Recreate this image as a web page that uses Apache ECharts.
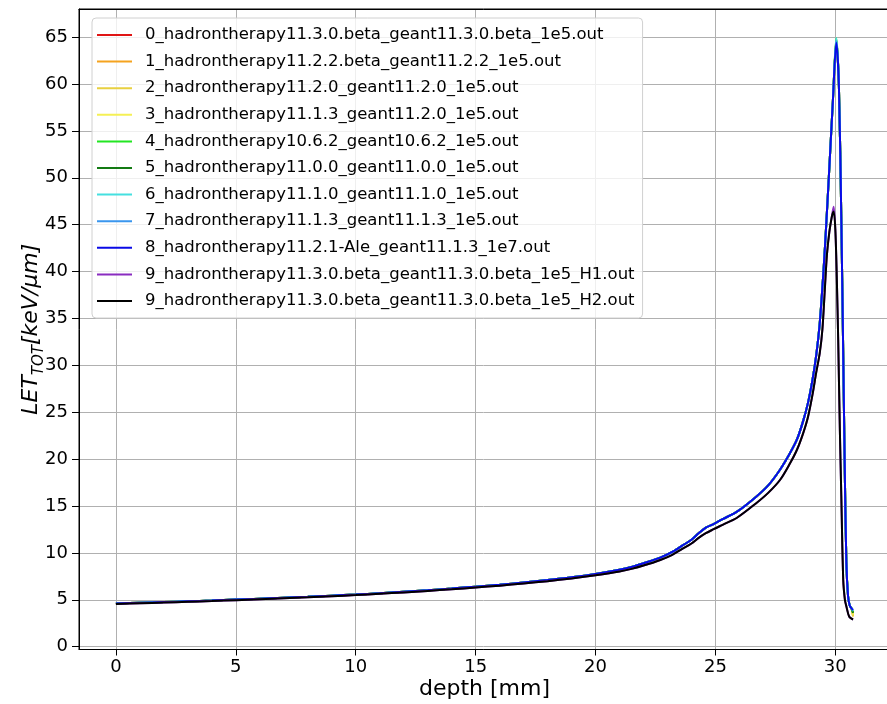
<!DOCTYPE html>
<html>
<head>
<meta charset="utf-8">
<script src="https://cdn.jsdelivr.net/npm/echarts@6/dist/echarts.min.js"></script>
<style>
  html, body { margin: 0; padding: 0; background: #fff; }
  #chart { width: 887px; height: 704px; }
</style>
</head>
<body>
<div id="chart"></div>
<script>
// depth grid [mm] and LET values
var depthMain = [0, 1, 2, 3, 4, 5, 6, 7, 8, 9, 10, 11, 12, 13, 14, 15, 16, 17, 18, 19, 20, 21, 21.5, 22, 22.7, 23.2, 23.6, 24.0, 24.3, 24.6, 24.9, 25.3, 25.9, 26.7, 27.2, 27.7, 28.1, 28.4, 28.65, 28.86, 29.05, 29.2, 29.35, 29.51, 29.62, 29.73, 29.9, 30.04, 30.15, 30.25, 30.32, 30.39, 30.46, 30.53, 30.6, 30.67, 30.74];
var letMain = [4.6, 4.68, 4.76, 4.84, 4.92, 5.02, 5.12, 5.22, 5.32, 5.44, 5.56, 5.7, 5.86, 6.02, 6.2, 6.4, 6.6, 6.84, 7.1, 7.4, 7.76, 8.2, 8.5, 8.9, 9.5, 10.1, 10.75, 11.4, 12.1, 12.7, 13.05, 13.6, 14.4, 16.0, 17.2, 18.9, 20.6, 22.1, 24.0, 26.0, 28.5, 31.0, 34.5, 40.2, 45.0, 50.1, 58.3, 64.4, 59.7, 45.5, 33.0, 19.6, 9.0, 5.4, 4.4, 4.1, 3.9];
var depthH = [0, 1, 2, 3, 4, 5, 6, 7, 8, 9, 10, 11, 12, 13, 14, 15, 16, 17, 18, 19, 20, 21, 21.5, 22, 22.7, 23.2, 23.6, 24.0, 24.3, 24.6, 24.9, 25.3, 25.9, 26.7, 27.2, 27.7, 28.1, 28.4, 28.65, 28.86, 29.05, 29.2, 29.35, 29.46, 29.56, 29.65, 29.75, 29.85, 29.93, 30.0, 30.06, 30.12, 30.19, 30.25, 30.33, 30.4, 30.46, 30.58, 30.74];
var letH = [4.55, 4.63, 4.71, 4.79, 4.87, 4.96, 5.06, 5.16, 5.26, 5.38, 5.5, 5.64, 5.79, 5.95, 6.12, 6.31, 6.51, 6.74, 6.99, 7.28, 7.62, 8.02, 8.3, 8.65, 9.25, 9.8, 10.4, 11.0, 11.6, 12.1, 12.5, 13.0, 13.75, 15.3, 16.4, 17.8, 19.5, 21.0, 22.7, 24.5, 26.9, 29.2, 31.3, 33.8, 38.0, 41.8, 44.2, 45.8, 46.4, 44.5, 39.5, 32.7, 23.0, 16.0, 7.1, 5.0, 4.3, 3.2, 2.9];

var names = [
  "0_hadrontherapy11.3.0.beta_geant11.3.0.beta_1e5.out",
  "1_hadrontherapy11.2.2.beta_geant11.2.2_1e5.out",
  "2_hadrontherapy11.2.0_geant11.2.0_1e5.out",
  "3_hadrontherapy11.1.3_geant11.2.0_1e5.out",
  "4_hadrontherapy10.6.2_geant10.6.2_1e5.out",
  "5_hadrontherapy11.0.0_geant11.0.0_1e5.out",
  "6_hadrontherapy11.1.0_geant11.1.0_1e5.out",
  "7_hadrontherapy11.1.3_geant11.1.3_1e5.out",
  "8_hadrontherapy11.2.1-Ale_geant11.1.3_1e7.out",
  "9_hadrontherapy11.3.0.beta_geant11.3.0.beta_1e5_H1.out",
  "9_hadrontherapy11.3.0.beta_geant11.3.0.beta_1e5_H2.out"
];
var colors = ["#e01515", "#f5a31f", "#e8d040", "#f5f055", "#22e622", "#137a13", "#45e0e0", "#3a96ee", "#0a0ae6", "#8a2cc0", "#000000"];
// per-run peak height and end value
var peakVals = [64.6, 64.5, 64.7, 64.6, 64.9, 64.7, 64.9, 64.6, 64.4, 46.9, 46.4];
var endVals = [3.5, 3.3, 3.2, 3.4, 3.6, 3.6, 3.8, 4.0, 3.9, 2.9, 2.9];

var myChart = echarts.init(document.getElementById('chart'));

var series = [];
names.forEach(function (n, i) {
  var isH = i >= 9;
  var xs = isH ? depthH : depthMain;
  var ys = (isH ? letH : letMain).slice();
  var peakIdx = ys.indexOf(Math.max.apply(null, ys));
  ys[peakIdx] = peakVals[i];
  ys[ys.length - 1] = endVals[i];
  series.push({
    name: n,
    type: 'line',
    showSymbol: false,
    symbol: 'none',
    smooth: 0.3,
    lineStyle: { width: 2, color: colors[i] },
    itemStyle: { color: colors[i] },
    data: xs.map(function (x, k) { return [x, ys[k]]; })
  });
});

var option = {
  animation: false,
  grid: { left: 79, right: -3, top: 9, bottom: 54.5, outerBoundsMode: 'none', containLabel: false, show: true, borderColor: '#000', borderWidth: 1 },
  legend: {
    orient: 'vertical',
    left: 92,
    top: 18,
    icon: 'rect',
    itemWidth: 35,
    itemHeight: 2,
    itemGap: 8.6,
    padding: [8, 8, 8, 5],
    backgroundColor: 'rgba(255,255,255,0.8)',
    borderColor: '#d0d0d0',
    borderWidth: 1,
    borderRadius: 4,
    textStyle: { fontFamily: 'DejaVu Sans', fontSize: 16.5, color: '#000', lineHeight: 18, padding: [0, 0, 0, 8] },
    data: names
  },
  xAxis: [{
    type: 'value',
    min: -1.54,
    max: 32.28,
    splitNumber: 7,
    name: 'depth [mm]',
    nameLocation: 'middle',
    nameGap: 29,
    nameMoveOverlap: false,
    nameTextStyle: { fontFamily: 'DejaVu Sans', fontSize: 22, color: '#000', verticalAlign: 'top' },
    axisLine: { show: true, onZero: false, lineStyle: { color: '#000' } },
    axisTick: { show: true, length: 6, lineStyle: { color: '#000' } },
    axisLabel: { fontFamily: 'DejaVu Sans', fontSize: 18, color: '#000', margin: 9, showMinLabel: false, showMaxLabel: false },
    splitLine: { show: true, lineStyle: { color: '#b0b0b0', width: 1 } }
  }, {
    // top spine only
    type: 'value',
    position: 'top',
    min: -1.54,
    max: 32.28,
    axisLine: { show: true, onZero: false, lineStyle: { color: '#000' } },
    axisTick: { show: false },
    axisLabel: { show: false },
    splitLine: { show: false }
  }],
  yAxis: {
    type: 'value',
    min: -0.3,
    max: 68.0,
    splitNumber: 14,
    name: '{i|LET}{s|TOT}{i|[keV/μm]}',
    nameLocation: 'middle',
    nameGap: 37,
    nameMoveOverlap: false,
    nameRotate: 90,
    nameTextStyle: {
      color: '#000',
      rich: {
        i: { fontFamily: 'DejaVu Sans', fontStyle: 'italic', fontSize: 22, color: '#000', lineHeight: 26, verticalAlign: 'bottom' },
        s: { fontFamily: 'DejaVu Sans', fontStyle: 'italic', fontSize: 15, color: '#000', lineHeight: 26, verticalAlign: 'bottom', padding: [0, 0, -5, 0] }
      }
    },
    axisLine: { show: true, onZero: false, lineStyle: { color: '#000' } },
    axisTick: { show: true, length: 7, lineStyle: { color: '#000' } },
    axisLabel: { fontFamily: 'DejaVu Sans', fontSize: 18, color: '#000', margin: 11, showMinLabel: false, showMaxLabel: false },
    splitLine: { show: true, lineStyle: { color: '#b0b0b0', width: 1 } }
  },
  series: series
};

myChart.setOption(option);
window.addEventListener("resize", function () {
  myChart.resize();
});
</script>
</body>
</html>
